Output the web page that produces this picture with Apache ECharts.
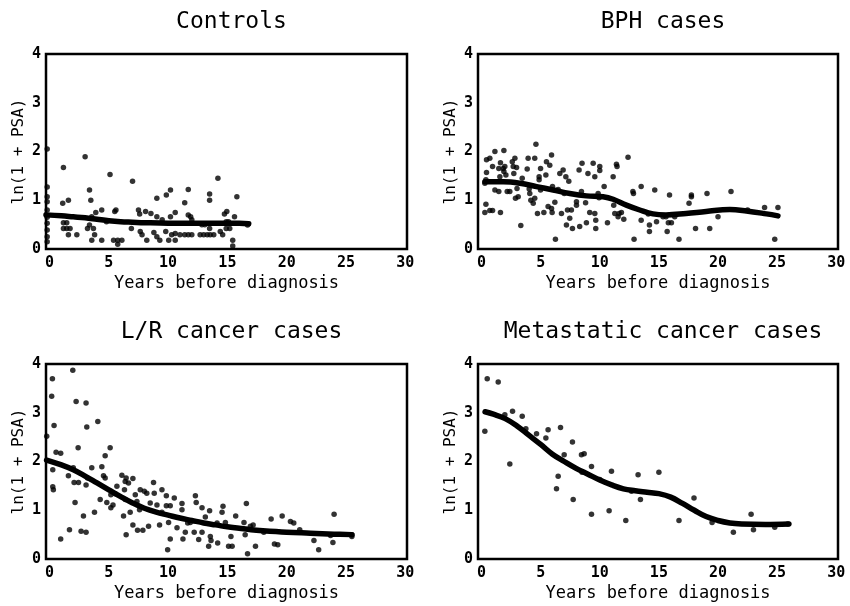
<!DOCTYPE html>
<html>
<head>
<meta charset="utf-8">
<title>PSA by years before diagnosis</title>
<script src="https://cdn.jsdelivr.net/npm/echarts@6/dist/echarts.min.js"></script>
<style>
  html, body { margin: 0; padding: 0; background: #fff; }
  #chart { width: 850px; height: 606px; }
</style>
</head>
<body>
<div id="chart"></div>
<script>
// Panel titles, tick labels and axis names
const panelTitles = ['Controls', 'BPH cases', 'L/R cancer cases', 'Metastatic cancer cases'];
const xTicks = [0, 5, 10, 15, 20, 25, 30];
const yTicks = [0, 1, 2, 3, 4];
const xName = 'Years before diagnosis';
const yName = 'ln(1 + PSA)';

// Individual measurements: [years before diagnosis, ln(1 + PSA)]
const controlsPoints = [
  [-0.2, 2.05], [-0.2, 1.27], [-0.2, 1.07], [-0.2, 0.97], [-0.2, 0.8], [-0.2, 0.65], [-0.2, 0.53],
  [-0.2, 0.39], [-0.2, 0.25], [-0.2, 0.15],
  [1.17, 1.67], [1.11, 0.94], [1.59, 1.0], [1.17, 0.54], [1.45, 0.54], [1.17, 0.42], [1.45, 0.42],
  [1.73, 0.42], [1.59, 0.29], [2.3, 0.29], [3.0, 1.89], [3.37, 1.21], [3.48, 1.0], [3.2, 0.42],
  [3.7, 0.42], [3.56, 0.66], [3.37, 0.49], [3.56, 0.18], [3.8, 0.29], [3.9, 0.75], [4.4, 0.8],
  [4.4, 0.18], [5.1, 1.53], [4.8, 0.56], [5.5, 0.77], [5.6, 0.8], [5.4, 0.18], [5.75, 0.18],
  [6.1, 0.18], [5.75, 0.1], [7.0, 1.39], [6.9, 0.42], [7.5, 0.8], [7.6, 0.72], [7.65, 0.36],
  [7.8, 0.29], [8.2, 0.18], [8.1, 0.77], [8.55, 0.73], [8.8, 0.34], [9.05, 0.66], [9.05, 1.04],
  [9.05, 0.25], [9.3, 0.18], [9.5, 0.6], [9.8, 0.36], [9.85, 1.11], [10.05, 0.18], [10.2, 1.21],
  [10.2, 0.66], [10.3, 0.29], [10.6, 0.75], [10.6, 0.32], [10.6, 0.18], [11.0, 0.29], [11.4, 0.29],
  [11.7, 0.29], [12.0, 0.29], [11.4, 0.95], [11.7, 1.22], [11.7, 0.7], [11.9, 0.66], [12.0, 0.6],
  [12.7, 0.29], [13.0, 0.29], [13.3, 0.29], [13.55, 0.29], [13.85, 0.29], [12.85, 0.5], [13.1, 0.5],
  [13.5, 1.13], [13.5, 1.0], [13.5, 0.42], [14.2, 1.45], [14.4, 0.36], [14.6, 0.29], [14.75, 0.72],
  [14.95, 0.77], [14.9, 0.56], [15.1, 0.56], [14.9, 0.42], [15.2, 0.42], [15.45, 0.18], [15.45, 0.06],
  [15.6, 0.66], [15.8, 1.07], [16.7, 0.49]
];
const controlsTrend = [
  [-0.3, 0.70], [1, 0.68], [2, 0.66], [3, 0.64], [4, 0.61], [5, 0.58], [6, 0.56], [7, 0.55],
  [8, 0.54], [10, 0.53], [12, 0.53], [14, 0.53], [16, 0.53], [16.8, 0.52]
];

const bphPoints = [
  [0.28, 0.75], [0.37, 0.92], [0.28, 1.35], [0.37, 1.42], [0.42, 1.57], [0.42, 1.83], [0.7, 1.86],
  [0.7, 0.79], [0.93, 0.79], [0.93, 1.69], [1.13, 2.0], [1.13, 1.21], [1.46, 1.18], [1.46, 1.65],
  [1.55, 1.48], [1.6, 1.77], [1.6, 0.75], [1.83, 1.65], [1.89, 1.59], [1.89, 2.02], [1.97, 1.69],
  [2.06, 1.52], [2.17, 1.18], [2.39, 1.18], [2.6, 1.79], [2.68, 1.69], [2.73, 1.55], [2.82, 1.86],
  [2.87, 1.04], [2.96, 1.67], [3.0, 1.24], [3.1, 1.07], [3.32, 0.48], [3.44, 1.45], [3.86, 1.64],
  [3.94, 1.86], [4.03, 1.23], [4.08, 1.14], [4.17, 1.0], [4.37, 0.94], [4.5, 1.86], [4.6, 2.15],
  [4.5, 1.04], [4.73, 0.73], [4.87, 1.48], [4.87, 1.42], [4.99, 1.65], [4.99, 1.21], [5.27, 0.75],
  [5.44, 1.52], [5.49, 1.79], [5.63, 0.87], [5.77, 1.72], [5.92, 1.93], [6.0, 1.28], [5.92, 0.83],
  [5.97, 0.75], [6.2, 0.96], [6.25, 0.2], [6.48, 1.22], [6.62, 1.55], [6.76, 0.73], [6.9, 1.62],
  [6.99, 1.14], [7.13, 1.48], [7.18, 0.49], [7.27, 0.8], [7.38, 1.39], [7.46, 0.63], [7.6, 0.8],
  [7.69, 0.42], [8.03, 0.9], [8.03, 0.97], [8.25, 1.62], [8.3, 0.46], [8.45, 1.18], [8.5, 1.76],
  [8.8, 0.95], [8.87, 0.54], [9.0, 1.55], [9.15, 0.75], [9.44, 1.76], [9.58, 1.48], [9.58, 0.73],
  [9.66, 0.59], [9.66, 0.42], [9.86, 1.14], [9.94, 1.05], [10.0, 1.69], [10.0, 1.61], [10.37, 1.28],
  [10.65, 0.54], [11.13, 1.48], [11.18, 0.9], [11.27, 0.73], [11.41, 1.74], [11.46, 1.69],
  [11.55, 0.66], [11.63, 0.73], [11.83, 0.75], [12.03, 0.61], [12.39, 1.88], [12.8, 1.18],
  [12.85, 1.14], [12.9, 0.2], [13.5, 0.59], [13.5, 1.28], [14.1, 0.72], [14.2, 0.49], [14.2, 0.36],
  [14.65, 1.21], [14.8, 0.56], [15.35, 0.66], [15.6, 0.66], [15.7, 0.36], [15.8, 0.54], [15.9, 1.11],
  [16.06, 0.54], [16.34, 0.66], [16.7, 0.2], [17.55, 0.94], [17.75, 1.11], [17.75, 1.07], [18.1, 0.42],
  [19.07, 1.14], [19.3, 0.42], [20.0, 0.66], [21.1, 1.18], [22.5, 0.8], [23.94, 0.85], [24.8, 0.2],
  [25.07, 0.85]
];
const bphTrend = [
  [0.28, 1.38], [1.83, 1.38], [3.24, 1.35], [4.65, 1.28], [6.06, 1.21], [7.46, 1.14], [8.87, 1.09],
  [10.28, 1.07], [11.13, 1.02], [12.25, 0.9], [13.38, 0.8], [14.5, 0.72], [15.6, 0.7], [17.3, 0.73],
  [19.0, 0.77], [21.0, 0.81], [22.4, 0.78], [24.1, 0.72], [25.07, 0.68]
];

const lrPoints = [
  [-0.24, 2.52], [0.18, 3.34], [0.24, 3.7], [0.38, 2.74], [0.27, 1.83], [0.27, 1.48], [0.32, 1.42],
  [0.55, 2.19], [0.94, 2.17], [0.94, 0.41], [1.59, 1.71], [1.68, 0.6], [1.96, 3.87], [2.0, 1.87],
  [2.07, 1.57], [2.15, 1.16], [2.24, 3.23], [2.41, 2.28], [2.44, 1.57], [2.66, 0.57], [2.86, 0.88],
  [3.08, 3.2], [3.14, 2.71], [3.08, 1.52], [3.08, 0.55], [3.2, 1.66], [3.56, 1.87], [3.79, 0.96],
  [4.07, 2.82], [4.27, 1.22], [4.41, 1.89], [4.55, 1.71], [4.69, 1.66], [4.69, 2.12], [4.83, 1.16],
  [5.11, 2.28], [5.17, 1.32], [5.17, 1.05], [5.35, 1.11], [5.54, 1.34], [5.68, 1.49], [6.1, 1.72],
  [6.24, 0.88], [6.32, 1.42], [6.38, 1.22], [6.38, 1.59], [6.46, 1.66], [6.46, 0.5], [6.66, 1.56],
  [6.8, 0.96], [7.03, 1.65], [7.03, 0.7], [7.23, 1.32], [7.37, 1.18], [7.42, 0.59], [7.59, 1.01],
  [7.65, 1.42], [7.87, 0.59], [7.99, 1.39], [8.2, 1.35], [8.35, 0.67], [8.49, 1.15], [8.77, 1.57],
  [8.83, 1.35], [9.06, 1.11], [9.28, 0.7], [9.48, 1.42], [9.48, 0.96], [9.85, 1.3], [9.85, 1.09],
  [9.96, 0.19], [10.04, 0.75], [10.18, 1.09], [10.18, 0.41], [10.52, 1.25], [10.75, 0.64],
  [11.17, 1.14], [11.17, 1.01], [11.25, 0.41], [11.45, 0.55], [11.65, 0.74], [11.87, 0.75],
  [12.3, 1.3], [12.37, 1.16], [12.2, 0.55], [12.58, 0.4], [12.86, 1.05], [12.86, 0.55], [13.14, 0.86],
  [13.42, 0.26], [13.5, 0.99], [13.56, 0.46], [13.62, 0.38], [14.13, 0.74], [14.18, 0.33],
  [14.55, 0.96], [14.63, 1.08], [14.83, 0.75], [15.1, 0.26], [15.4, 0.26], [15.3, 0.46], [15.7, 0.88],
  [16.4, 0.75], [16.5, 0.5], [16.6, 1.14], [16.7, 0.11], [16.94, 0.67], [17.17, 0.7], [17.37, 0.26],
  [18.07, 0.55], [18.69, 0.82], [18.97, 0.31], [19.25, 0.29], [19.62, 0.88], [20.32, 0.77],
  [20.6, 0.74], [21.1, 0.6], [22.3, 0.38], [22.7, 0.19], [23.7, 0.48], [23.9, 0.34], [24.0, 0.92],
  [25.5, 0.5], [25.5, 0.46]
];
const lrTrend = [
  [-0.25, 2.03], [1, 1.93], [2, 1.83], [3, 1.7], [4, 1.56], [5, 1.42], [6, 1.28], [7, 1.15],
  [8, 1.04], [9, 0.96], [10, 0.9], [11, 0.84], [12, 0.79], [13, 0.74], [14, 0.7], [15, 0.66],
  [16, 0.63], [17, 0.6], [18, 0.58], [20, 0.55], [22, 0.53], [24, 0.51], [25.5, 0.5]
];

const metPoints = [
  [0.28, 2.62], [0.48, 3.7], [1.41, 3.63], [1.97, 2.96], [2.39, 1.95], [2.62, 3.03], [3.44, 2.93],
  [3.75, 2.67], [4.65, 2.57], [5.44, 2.48], [5.63, 2.65], [6.34, 1.44], [6.48, 1.7], [6.68, 2.7],
  [6.99, 2.14], [7.69, 2.4], [7.75, 1.22], [8.45, 2.14], [8.68, 2.16], [8.5, 1.78], [9.3, 1.9],
  [9.3, 0.92], [10.0, 1.63], [10.79, 0.99], [10.99, 1.8], [12.2, 0.79], [12.68, 1.39], [13.24, 1.73],
  [13.44, 1.22], [15.0, 1.78], [16.7, 0.79], [17.97, 1.25], [19.5, 0.75], [21.3, 0.55], [22.8, 0.92],
  [23.0, 0.6], [24.8, 0.65], [25.9, 0.72]
];
const metTrend = [
  [0.3, 3.02], [1, 2.97], [2, 2.88], [3, 2.73], [4, 2.54], [5, 2.35], [6, 2.15], [7, 2.0],
  [8, 1.86], [9, 1.74], [10, 1.62], [11, 1.52], [12, 1.44], [13, 1.4], [14, 1.37], [15, 1.34],
  [16, 1.27], [17, 1.14], [18, 1.0], [19, 0.87], [20, 0.79], [21, 0.74], [22, 0.72], [24, 0.71],
  [26, 0.72]
];

const panelPoints = [controlsPoints, bphPoints, lrPoints, metPoints];
const panelTrends = [controlsTrend, bphTrend, lrTrend, metTrend];

// Layout of the four plot frames (2 x 2)
const frames = [
  { left: 46, top: 54, width: 361, height: 195 },
  { left: 478, top: 54, width: 360, height: 195 },
  { left: 46, top: 364, width: 361, height: 195 },
  { left: 478, top: 364, width: 360, height: 195 }
];
const titleTops = [6, 6, 316, 316];

const MONO = '"DejaVu Sans Mono", "Liberation Mono", monospace';

const option = {
  backgroundColor: '#fff',
  animation: false,
  title: frames.map((f, i) => ({
    text: panelTitles[i],
    left: f.left + f.width / 2,
    top: titleTops[i],
    textAlign: 'center',
    textStyle: { fontFamily: MONO, fontSize: 23, fontWeight: 'normal', color: '#000' }
  })),
  grid: frames.map(f => ({
    left: f.left, top: f.top, width: f.width, height: f.height,
    show: true, borderColor: '#000', borderWidth: 2.5, backgroundColor: 'transparent',
    containLabel: false
  })),
  xAxis: frames.map((f, i) => ({
    type: 'value', gridIndex: i, min: -0.3, max: 30.15,
    name: xName, nameLocation: 'middle', nameGap: 26,
    nameTextStyle: { fontFamily: MONO, fontSize: 17, color: '#000' },
    axisLine: { show: false }, axisTick: { show: false }, splitLine: { show: false },
    axisLabel: {
      customValues: xTicks, margin: 7,
      fontFamily: MONO, fontSize: 15, fontWeight: 'bold', color: '#000'
    }
  })),
  yAxis: frames.map((f, i) => ({
    type: 'value', gridIndex: i, min: 0, max: 4, interval: 1,
    name: yName, nameLocation: 'middle', nameGap: 19,
    nameTextStyle: { fontFamily: MONO, fontSize: 16, color: '#000' },
    axisLine: { show: false }, axisTick: { show: false }, splitLine: { show: false },
    axisLabel: {
      customValues: yTicks, margin: 5,
      fontFamily: MONO, fontSize: 15, fontWeight: 'bold', color: '#000'
    }
  })),
  series: []
};

panelPoints.forEach((pts, i) => {
  option.series.push({
    type: 'scatter', xAxisIndex: i, yAxisIndex: i, data: pts,
    symbol: 'circle', symbolSize: 5.5, itemStyle: { color: '#000' }, z: 2, silent: true
  });
  option.series.push({
    type: 'line', xAxisIndex: i, yAxisIndex: i, data: panelTrends[i],
    smooth: 0.4, showSymbol: false, symbol: 'none',
    lineStyle: { color: '#000', width: 5.5, cap: 'round', join: 'round' }, z: 3, silent: true
  });
});

const chart = echarts.init(document.getElementById('chart'), null, { renderer: 'canvas' });
chart.setOption(option);
</script>
</body>
</html>
